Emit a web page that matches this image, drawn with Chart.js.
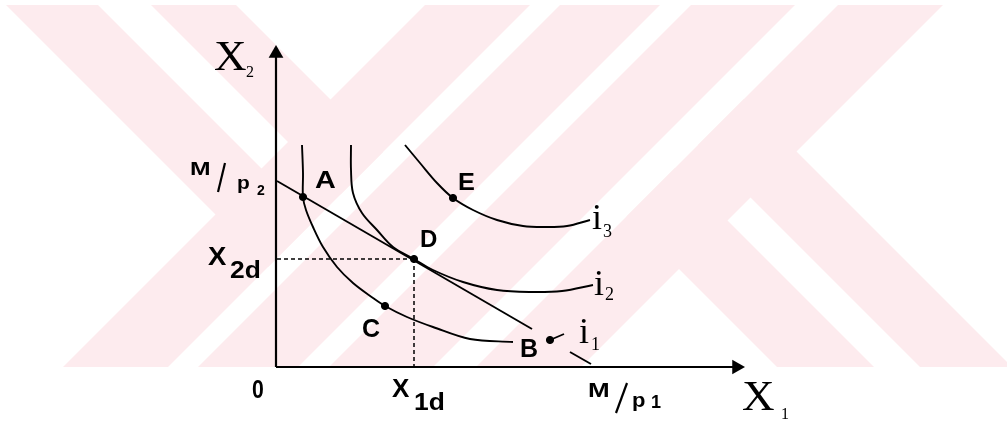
<!DOCTYPE html>
<html><head><meta charset="utf-8">
<script src="https://cdn.jsdelivr.net/npm/chart.js@4"></script>
<style>html,body{margin:0;padding:0;background:#fff;overflow:hidden}#wrap{width:1007px;height:427px;position:relative}</style>
</head><body><div id="wrap"><canvas id="c" width="1007" height="427"></canvas></div>
<script>
// ---- data (axis units) ----
const X_MAX = 469, Y_MAX = 322;
const i1X = [26, 27, 27, 30, 37, 47, 61, 77, 97, 109, 131, 157, 194, 237];
const i1Y = [222, 194, 170, 157, 140, 120, 100, 84, 69, 61, 50, 40, 28, 25];
const i2X = [75, 75, 77, 86, 101, 117, 138, 157, 187, 221, 254, 286, 317];
const i2Y = [222, 197, 174, 154, 137, 120, 108, 97, 85, 77, 75, 76, 82];
const i3X = [129, 144, 161, 177, 197, 221, 247, 269, 291, 314];
const i3Y = [222, 204, 184, 169, 157, 147, 141, 140, 141, 147];
const budgetX = [1, 256];
const budgetY = [186, 38];
const budgetTailX = [294, 315];
const budgetTailY = [15, 3];
const pointNames = ['A', 'C', 'D', 'E', 'B'];
const pointX = [27, 109, 138, 177, 274];
const pointY = [170, 61, 108, 169, 27];
const X1D = 138, X2D = 108;
const xTickLabels = ['0', 'X1d', 'M/p1'];
const yTickLabels = ['M/p2', 'X2d'];

const zip = (xs, ys) => xs.map((x, i) => ({x, y: ys[i]}));
const line = (xs, ys, extra) => Object.assign({
  data: zip(xs, ys), showLine: true, borderColor: '#000', borderWidth: 1.9,
  pointRadius: 0, tension: 0.35, clip: false, fill: false
}, extra || {});

const datasets = [
  // axes
  line([0, 0], [0, 314], {borderWidth: 2.2, tension: 0}),
  line([0, 461], [0, 0], {borderWidth: 2.2, tension: 0}),
  {data: [{x: 0, y: 313.5}, {x: 460.5, y: 0}], pointStyle: 'triangle', pointRadius: 8.5,
   rotation: [0, 90], pointBackgroundColor: '#000', pointBorderColor: '#000', pointBorderWidth: 0,
   showLine: false, clip: false},
  // guides
  line([1, X1D], [X2D, X2D], {borderWidth: 1.5, borderDash: [4, 3], tension: 0}),
  line([X1D, X1D], [X2D, 0], {borderWidth: 1.5, borderDash: [4, 3], tension: 0}),
  // indifference curves
  line(i1X, i1Y),
  line(i2X, i2Y),
  line(i3X, i3Y),
  // budget line
  line(budgetX, budgetY, {tension: 0}),
  line(budgetTailX, budgetTailY, {tension: 0}),
  line([pointX[4], pointX[4] + 14], [pointY[4], pointY[4] + 6], {tension: 0}),
  // points
  {data: zip(pointX, pointY), pointRadius: 3.6, pointBackgroundColor: '#000', pointBorderColor: '#000',
   showLine: false, clip: false}
];

// decorative background watermark (45 degree bands)
const BAND_BACK_UPPER = [[1, 93], [146, 231]];   // x - y ranges, limited to x + y <= 535
const BAND_BACK_LOWER = [[410, 507], [553, 645]]; // x - y ranges, limited to x + y >= 843
const BAND_FWD = [[430, 535], [565, 665], [696, 800], [843, 948]]; // x + y ranges
const watermark = {
  id: 'watermark',
  beforeDraw(chart) {
    const ctx = chart.ctx, y0 = 5, y1 = 367;
    const poly = pts => {
      ctx.beginPath(); ctx.moveTo(pts[0][0], pts[0][1]);
      pts.slice(1).forEach(p => ctx.lineTo(p[0], p[1]));
      ctx.closePath(); ctx.fill();
    };
    ctx.save();
    ctx.beginPath(); ctx.rect(0, y0, chart.width, y1 - y0); ctx.clip();
    ctx.fillStyle = 'rgb(253,235,238)';
    BAND_BACK_UPPER.forEach(([a, b]) => {
      const L = 535;
      poly([[a + y0 - 20, y0 - 20], [b + y0 - 20, y0 - 20], [(L + b) / 2, (L - b) / 2], [(L + a) / 2, (L - a) / 2]]);
    });
    BAND_BACK_LOWER.forEach(([a, b]) => {
      const L = 843;
      poly([[(L + a) / 2, (L - a) / 2], [(L + b) / 2, (L - b) / 2], [b + y1, y1], [a + y1, y1]]);
    });
    BAND_FWD.forEach(([a, b]) => {
      poly([[a - y0, y0], [b - y0, y0], [b - y1, y1], [a - y1, y1]]);
    });
    ctx.restore();
  }
};

const SANS = '"Liberation Sans", Arial, sans-serif';
const SERIF = '"Liberation Serif", "Times New Roman", serif';
const labels = {
  id: 'labels',
  afterDatasetsDraw(chart) {
    const ctx = chart.ctx, xs = chart.scales.x, ys = chart.scales.y;
    const P = (x, y) => [xs.getPixelForValue(x), ys.getPixelForValue(y)];
    const t = (s, x, y, font, sx) => {
      const [px, py] = P(x, y);
      ctx.save(); ctx.translate(px, py); ctx.scale(sx || 1, 1);
      ctx.font = font; ctx.fillText(s, 0, 0); ctx.restore();
    };
    const slash = (x0, y0, x1, y1) => {
      const a = P(x0, y0), b = P(x1, y1);
      ctx.beginPath(); ctx.moveTo(a[0], a[1]); ctx.lineTo(b[0], b[1]); ctx.stroke();
    };
    ctx.save();
    ctx.fillStyle = '#000'; ctx.strokeStyle = '#000'; ctx.lineWidth = 2.2;
    ctx.textAlign = 'left'; ctx.textBaseline = 'alphabetic';
    // axis titles
    t('X', -62, 297, '43px ' + SERIF, 1.05); t('2', -30, 290, '16px ' + SERIF);
    t('X', 466, -43, '43px ' + SERIF, 1.05); t('1', 505, -52, '16px ' + SERIF);
    // y-axis labels
    t('M', -86, 192, 'bold 19px ' + SANS, 1.3);
    slash(-58, 175, -51, 204);
    t('p', -39, 178, 'bold 19px ' + SANS, 1.1);
    t('2', -19, 172, 'bold 14px ' + SANS);
    t('X', -68, 102, 'bold 25px ' + SANS, 1.1);
    t('2d', -46, 89, 'bold 24px ' + SANS, 1.1);
    // x-axis labels
    t(xTickLabels[0], -24, -31, 'bold 25px ' + SANS, 0.85);
    t('X', 116, -30, 'bold 26px ' + SANS);
    t('1d', 138, -43, 'bold 24px ' + SANS, 1.1);
    t('M', 312, -30, 'bold 20px ' + SANS, 1.3);
    slash(340, -46, 351, -16);
    t('p', 356, -40, 'bold 20px ' + SANS, 1.1);
    t('1', 375, -41, 'bold 18px ' + SANS);
    // point labels
    t(pointNames[0], 39, 179, 'bold 24px ' + SANS, 1.2);
    t(pointNames[1], 86, 30, 'bold 25px ' + SANS);
    t(pointNames[2], 144, 120, 'bold 24px ' + SANS);
    t(pointNames[3], 182, 177, 'bold 23px ' + SANS, 1.1);
    t(pointNames[4], 244, 10, 'bold 25px ' + SANS);
    // curve labels
    t('i', 303, 24, '36px ' + SERIF); t('1', 315, 17, '18px ' + SERIF);
    t('i', 318, 72, '36px ' + SERIF); t('2', 329, 67, '18px ' + SERIF);
    t('i', 316, 138, '36px ' + SERIF); t('3', 327, 130, '18px ' + SERIF);
    ctx.restore();
  }
};

new Chart(document.getElementById('c').getContext('2d'), {
  type: 'scatter',
  data: {datasets},
  options: {
    responsive: false, animation: false, events: [],
    layout: {padding: {left: 276, right: 262, top: 45, bottom: 60}},
    scales: {
      x: {type: 'linear', min: 0, max: X_MAX, display: false},
      y: {type: 'linear', min: 0, max: Y_MAX, display: false}
    },
    plugins: {legend: {display: false}, tooltip: {enabled: false}}
  },
  plugins: [watermark, labels]
});
</script></body></html>
